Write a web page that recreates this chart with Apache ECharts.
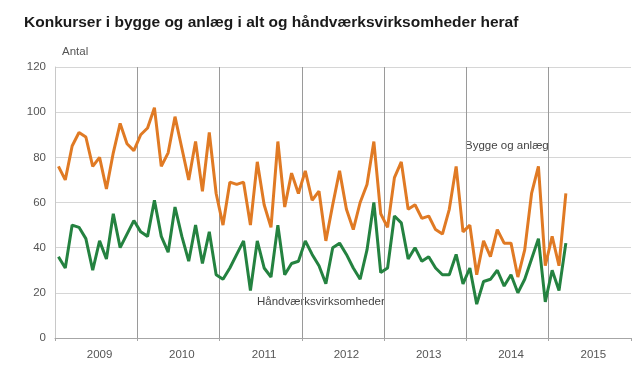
<!DOCTYPE html>
<html>
<head>
<meta charset="utf-8">
<script src="https://cdn.jsdelivr.net/npm/echarts@6/dist/echarts.min.js"></script>
<style>
  html, body { margin: 0; padding: 0; background: #fff; }
  #chart { width: 640px; height: 376px; }
</style>
</head>
<body>
<div id="chart"></div>
<script>
// år og måneder
var years = ['2009', '2010', '2011', '2012', '2013', '2014', '2015'];
var months = [];
for (var y = 0; y < years.length; y++) {
    for (var m = 1; m <= 12; m++) {
        months.push(years[y] + '-' + (m < 10 ? '0' + m : m));
    }
}

// Bygge og anlæg i alt (jan 2009 - mar 2015)
var byggeAnlaeg = [
    76, 70, 85, 91, 89, 76, 80, 66, 82, 95, 86, 83,
    90, 93, 102, 76, 82, 98, 84, 70, 87, 65, 91, 64,
    50, 69, 68, 69, 50, 78, 59, 49, 87, 58, 73, 64,
    74, 61, 65, 43, 59, 74, 57, 48, 60, 68, 87, 55,
    49, 71, 78, 57, 59, 53, 54, 48, 46, 57, 76, 47,
    50, 28, 43, 36, 48, 42, 42, 27, 39, 64, 76, 32,
    45, 32, 64
];

// Håndværksvirksomheder heraf
var haandvaerk = [
    36, 31, 50, 49, 44, 30, 43, 35, 55, 40, 46, 52,
    47, 45, 61, 45, 38, 58, 45, 34, 50, 33, 47, 28,
    26, 31, 37, 43, 21, 43, 31, 27, 50, 28, 33, 34,
    43, 37, 32, 24, 40, 42, 37, 31, 26, 39, 60, 29,
    31, 54, 51, 35, 40, 34, 36, 31, 28, 28, 37, 24,
    31, 15, 25, 26, 30, 23, 28, 20, 26, 35, 44, 16,
    30, 21, 42
];

var yTicks = [0, 20, 40, 60, 80, 100, 120];

var labelFont = '"Liberation Sans", Arial, sans-serif';

var chart = echarts.init(document.getElementById('chart'));

var option = {
    animation: false,
    backgroundColor: '#fff',
    title: {
        text: 'Konkurser i bygge og anlæg i alt og håndværksvirksomheder heraf',
        left: 19,
        top: 10,
        textStyle: {
            fontFamily: '"Liberation Sans", Arial, sans-serif',
            fontSize: 15.5,
            fontWeight: 'bold',
            color: '#1a1a1a'
        }
    },
    grid: {
        left: 55,
        right: 9,
        top: 67,
        bottom: 38
    },
    xAxis: {
        type: 'category',
        data: months,
        boundaryGap: true,
        axisLine: { lineStyle: { color: '#a6a6a6', width: 1 } },
        axisTick: {
            show: true,
            length: 3,
            interval: function (i) { return i % 12 === 0; },
            lineStyle: { color: '#a6a6a6' }
        },
        splitLine: {
            show: true,
            showMinLine: false,
            showMaxLine: false,
            interval: function (i) { return i % 12 === 0; },
            lineStyle: { color: '#9a9a9a', width: 1 }
        },
        axisLabel: {
            interval: function (i) { return i % 12 === 6; },
            formatter: function (v) { return v.slice(0, 4); },
            color: '#555',
            fontFamily: labelFont,
            fontSize: 11.5,
            margin: 11
        }
    },
    yAxis: {
        type: 'value',
        min: yTicks[0],
        max: yTicks[yTicks.length - 1],
        interval: 20,
        name: 'Antal',
        nameLocation: 'end',
        nameGap: 9,
        nameTextStyle: {
            color: '#555',
            fontFamily: labelFont,
            fontSize: 11.5,
            align: 'left',
            padding: [0, 0, 0, 7]
        },
        axisLine: { show: true, lineStyle: { color: '#c8c8c8' } },
        axisTick: { show: false },
        splitLine: { lineStyle: { color: '#d6d6d6', width: 1 } },
        axisLabel: {
            color: '#555',
            fontFamily: labelFont,
            fontSize: 11.5,
            margin: 9
        }
    },
    series: [
        {
            name: 'Bygge og anlæg',
            type: 'line',
            data: byggeAnlaeg,
            symbol: 'none',
            lineStyle: { color: '#e07a24', width: 3 },
            itemStyle: { color: '#e07a24' },
            z: 3
        },
        {
            name: 'Håndværksvirksomheder',
            type: 'line',
            data: haandvaerk,
            symbol: 'none',
            lineStyle: { color: '#248240', width: 3 },
            itemStyle: { color: '#248240' },
            z: 4
        }
    ],
    graphic: [
        {
            type: 'text',
            left: 465,
            top: 140,
            style: {
                text: 'Bygge og anlæg',
                fill: '#444',
                font: '11.5px ' + labelFont
            }
        },
        {
            type: 'text',
            left: 257,
            top: 296,
            style: {
                text: 'Håndværksvirksomheder',
                fill: '#444',
                font: '11.5px ' + labelFont
            }
        }
    ]
};

chart.setOption(option);

window.onresize = function () {
    chart.resize();
};
</script>
</body>
</html>
